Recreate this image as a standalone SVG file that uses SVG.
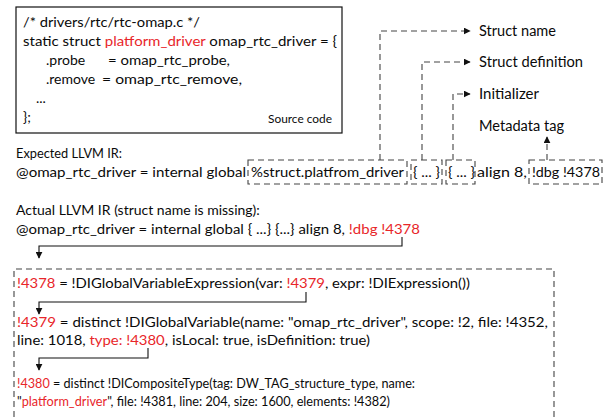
<svg xmlns="http://www.w3.org/2000/svg" width="611" height="417" viewBox="0 0 611 417">
  <style>
    text { font-family: Lato, "Open Sans", "Liberation Sans", sans-serif; font-size: 14px; fill: #0a0a0a; }
    .red { fill: #e8262a; }
    .small { font-size: 11.5px; }
    .label { font-size: 14.5px; }
    .dash { fill: none; stroke: #444; stroke-width: 1.1; stroke-dasharray: 6 4; }
    .solid { fill: none; stroke: #111; stroke-width: 1.1; }
  </style>
  <defs>
    <marker id="tip" viewBox="0 0 10 10" refX="9" refY="5" markerWidth="7" markerHeight="7" orient="auto" markerUnits="userSpaceOnUse">
      <path d="M0,0 L10,5 L0,10 Z" fill="#111"/>
    </marker>
  </defs>
  <rect width="611" height="417" fill="#fff"/>

  <!-- source code snippet -->
  <g id="source-code">
    <rect x="16" y="7" width="326" height="126" fill="#fff" stroke="#111" stroke-width="1.2"/>
    <text x="23" y="27" textLength="177" lengthAdjust="spacingAndGlyphs">/* drivers/rtc/rtc-omap.c */</text>
    <text x="23" y="46" textLength="314" lengthAdjust="spacingAndGlyphs">static struct <tspan class="red">platform_driver</tspan> omap_rtc_driver = {</text>
    <text x="46" y="65">.probe</text>
    <text x="108" y="65" textLength="122" lengthAdjust="spacingAndGlyphs">= omap_rtc_probe,</text>
    <text x="46" y="84">.remove</text>
    <text x="102" y="84" textLength="140" lengthAdjust="spacingAndGlyphs">= omap_rtc_remove,</text>
    <text x="36" y="103">...</text>
    <text x="23" y="122">};</text>
    <text class="small" x="268" y="123" textLength="64" lengthAdjust="spacingAndGlyphs">Source code</text>
  </g>

  <!-- expected IR -->
  <g id="expected-ir">
    <text x="16" y="158" textLength="106" lengthAdjust="spacingAndGlyphs">Expected LLVM IR:</text>
    <text x="16" y="177" textLength="230" lengthAdjust="spacingAndGlyphs">@omap_rtc_driver = internal global</text>
  </g>
  <g id="struct-name-field">
    <rect class="dash" x="248" y="160" width="159" height="24"/>
    <text x="251" y="177" textLength="153" lengthAdjust="spacingAndGlyphs">%struct.platfrom_driver</text>
  </g>
  <g id="struct-def-field">
    <rect class="dash" x="411" y="160" width="31" height="24"/>
    <text x="413" y="177" textLength="27" lengthAdjust="spacingAndGlyphs">{ ... }</text>
  </g>
  <g id="initializer-field">
    <rect class="dash" x="446" y="160" width="29" height="24"/>
    <text x="448" y="177" textLength="27" lengthAdjust="spacingAndGlyphs">{ ... }</text>
  </g>
  <text x="477" y="177" textLength="50" lengthAdjust="spacingAndGlyphs">align 8,</text>
  <g id="metadata-field">
    <rect class="dash" x="529" y="160" width="73" height="24"/>
    <text x="532" y="177" textLength="68" lengthAdjust="spacingAndGlyphs">!dbg !4378</text>
  </g>

  <!-- legend labels -->
  <g id="label-struct-name"><text class="label" x="479" y="36" textLength="77" lengthAdjust="spacingAndGlyphs">Struct name</text></g>
  <g id="label-struct-def"><text class="label" x="479" y="67" textLength="104" lengthAdjust="spacingAndGlyphs">Struct definition</text></g>
  <g id="label-initializer"><text class="label" x="479" y="99" textLength="60" lengthAdjust="spacingAndGlyphs">Initializer</text></g>
  <g id="label-metadata"><text class="label" x="479" y="131" textLength="85" lengthAdjust="spacingAndGlyphs">Metadata tag</text></g>

  <!-- actual IR -->
  <g id="actual-ir">
    <text x="16" y="215">Actual LLVM IR (struct name is missing):</text>
    <text x="16" y="234" textLength="404" lengthAdjust="spacingAndGlyphs">@omap_rtc_driver = internal global { ...} {...} align 8, <tspan class="red">!dbg !4378</tspan></text>
  </g>

  <!-- debug metadata chain -->
  <g id="metadata-chain">
    <path class="dash" d="M14,417 V269 H554 V417"/>
    <text x="17" y="288" textLength="453" lengthAdjust="spacingAndGlyphs"><tspan class="red">!4378</tspan> = !DIGlobalVariableExpression(var: <tspan class="red">!4379</tspan>, expr: !DIExpression())</text>
    <text x="17" y="327" textLength="531" lengthAdjust="spacingAndGlyphs"><tspan class="red">!4379</tspan> = distinct !DIGlobalVariable(name: "omap_rtc_driver", scope: !2, file: !4352,</text>
    <text x="17" y="345" textLength="353" lengthAdjust="spacingAndGlyphs">line: 1018, <tspan class="red">type: !4380</tspan>, isLocal: true, isDefinition: true)</text>
    <text x="17" y="388" textLength="398" lengthAdjust="spacingAndGlyphs"><tspan class="red">!4380</tspan> = distinct !DICompositeType(tag: DW_TAG_structure_type, name:</text>
    <text x="17" y="406" textLength="373" lengthAdjust="spacingAndGlyphs">"<tspan class="red">platform_driver</tspan>", file: !4381, line: 204, size: 1600, elements: !4382)</text>
  </g>

  <!-- connectors -->
  <g id="connectors">
    <path class="dash" d="M380,160 V31 H470" marker-end="url(#tip)"/>
    <path class="dash" d="M422,160 V62 H470" marker-end="url(#tip)"/>
    <path class="dash" d="M453,160 V94 H470" marker-end="url(#tip)"/>
    <path class="dash" d="M547,160 V137" marker-end="url(#tip)"/>
    <path class="solid" d="M402,237 V246 H39 V258" marker-end="url(#tip)"/>
    <path class="solid" d="M306,292 V302 H39 V314" marker-end="url(#tip)"/>
    <path class="solid" d="M148,348 V358 H39 V370" marker-end="url(#tip)"/>
  </g>
</svg>
